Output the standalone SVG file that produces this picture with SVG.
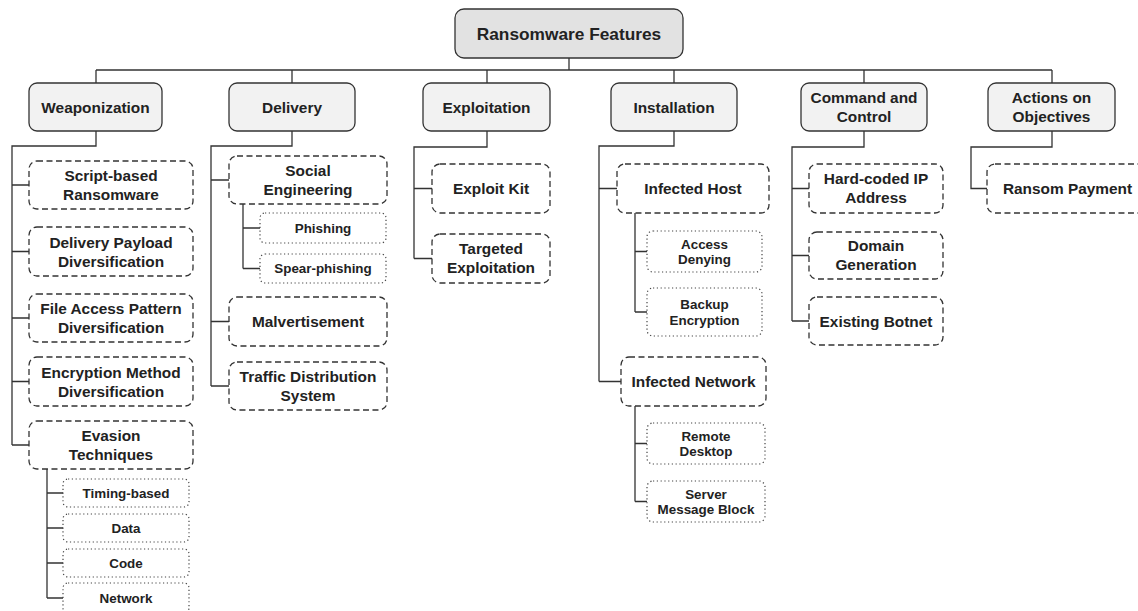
<svg xmlns="http://www.w3.org/2000/svg" width="1138" height="611" viewBox="0 0 1138 611">
<style>
  text { font-family: "Liberation Sans", Arial, sans-serif; font-weight: bold; fill: #222; text-anchor: middle; }
  .root rect { fill: #e2e2e2; stroke: #333; stroke-width: 1.3; }
  .root text { font-size: 17.3px; }
  .l1 rect { fill: #f2f2f2; stroke: #333; stroke-width: 1.3; }
  .l1 text, .l2 text { font-size: 15.4px; }
  .l2 rect { fill: #fff; stroke: #333; stroke-width: 1.3; stroke-dasharray: 6 3.5; }
  .l3 rect { fill: #fff; stroke: #444; stroke-width: 1.2; stroke-dasharray: 1.2 2.6; }
  .l3 text { font-size: 13.4px; }
  #connectors path { fill: none; stroke: #333; stroke-width: 1.3; }
</style>
<rect width="1138" height="611" fill="#fff"/>
<g id="connectors">
  <path d="M569,58 V70 M96,70 H1052 M96,70 V83 M292,70 V83 M487,70 V83 M674,70 V83 M864,70 V83 M1052,70 V83"/>
  <path d="M96,131 V146 H12 V445 M12,185 H29 M12,251.5 H29 M12,318 H29 M12,381.5 H29 M12,445 H29"/>
  <path d="M47,469 V598 M47,493 H63 M47,528 H63 M47,563 H63 M47,598 H63"/>
  <path d="M292,131 V146 H211 V386 M211,180 H229 M211,321.5 H229 M211,386 H229"/>
  <path d="M243,204 V268.5 M243,228 H260 M243,268.5 H260"/>
  <path d="M487,131 V147 H414 V258.5 M414,188.5 H432 M414,258.5 H432"/>
  <path d="M674,131 V146 H599 V381.5 M599,188.5 H617 M599,381.5 H621"/>
  <path d="M635,213 V312 M635,251.5 H647 M635,312 H647"/>
  <path d="M635,406 V501.5 M635,443.5 H647 M635,501.5 H647"/>
  <path d="M864,131 V147 H792 V321 M792,188.5 H809 M792,255.5 H809 M792,321 H809"/>
  <path d="M1052,131 V147 H971 V188.5 H987"/>
</g>
<g id="root" class="root"><rect x="455" y="9" width="228" height="49" rx="9"/><text x="569" y="39.7">Ransomware Features</text></g>

<g id="weaponization" class="l1"><rect x="29" y="83" width="133" height="48" rx="8"/><text x="95.5" y="112.5">Weaponization</text></g>
<g id="delivery" class="l1"><rect x="229" y="83" width="126" height="48" rx="8"/><text x="292" y="112.5">Delivery</text></g>
<g id="exploitation" class="l1"><rect x="423" y="83" width="127" height="48" rx="8"/><text x="486.5" y="112.5">Exploitation</text></g>
<g id="installation" class="l1"><rect x="611" y="83" width="126" height="48" rx="8"/><text x="674" y="112.5">Installation</text></g>
<g id="c2" class="l1"><rect x="801" y="83" width="126" height="48" rx="8"/><text x="864" y="103">Command and</text><text x="864" y="122">Control</text></g>
<g id="actions" class="l1"><rect x="988" y="83" width="127" height="48" rx="8"/><text x="1051.5" y="103">Actions on</text><text x="1051.5" y="122">Objectives</text></g>

<g id="script-based" class="l2"><rect x="29" y="161" width="164" height="48" rx="8"/><text x="111" y="181">Script-based</text><text x="111" y="200">Ransomware</text></g>
<g id="delivery-payload" class="l2"><rect x="29" y="227" width="164" height="49" rx="8"/><text x="111" y="247.5">Delivery Payload</text><text x="111" y="266.5">Diversification</text></g>
<g id="file-access" class="l2"><rect x="29" y="294" width="164" height="48" rx="8"/><text x="111" y="314">File Access Pattern</text><text x="111" y="333">Diversification</text></g>
<g id="encryption-method" class="l2"><rect x="29" y="357" width="164" height="49" rx="8"/><text x="111" y="377.5">Encryption Method</text><text x="111" y="396.5">Diversification</text></g>
<g id="evasion" class="l2"><rect x="29" y="421" width="164" height="48" rx="8"/><text x="111" y="441">Evasion</text><text x="111" y="460">Techniques</text></g>
<g id="timing-based" class="l3"><rect x="63" y="479" width="126" height="28" rx="5"/><text x="126" y="497.8">Timing-based</text></g>
<g id="data" class="l3"><rect x="63" y="514" width="126" height="28" rx="5"/><text x="126" y="532.8">Data</text></g>
<g id="code" class="l3"><rect x="63" y="549" width="126" height="28" rx="5"/><text x="126" y="567.8">Code</text></g>
<g id="network" class="l3"><rect x="63" y="583" width="126" height="30" rx="5"/><text x="126" y="602.8">Network</text></g>

<g id="social-engineering" class="l2"><rect x="229" y="156" width="158" height="48" rx="8"/><text x="308" y="175.5">Social</text><text x="308" y="194.5">Engineering</text></g>
<g id="phishing" class="l3"><rect x="260" y="213" width="126" height="30" rx="5"/><text x="323" y="232.8">Phishing</text></g>
<g id="spear-phishing" class="l3"><rect x="260" y="254" width="126" height="29" rx="5"/><text x="323" y="273.3">Spear-phishing</text></g>
<g id="malvertisement" class="l2"><rect x="229" y="297" width="158" height="49" rx="8"/><text x="308" y="327">Malvertisement</text></g>
<g id="tds" class="l2"><rect x="229" y="362" width="158" height="48" rx="8"/><text x="308" y="381.5">Traffic Distribution</text><text x="308" y="400.5">System</text></g>

<g id="exploit-kit" class="l2"><rect x="432" y="164" width="118" height="49" rx="8"/><text x="491" y="194">Exploit Kit</text></g>
<g id="targeted-exploitation" class="l2"><rect x="432" y="234" width="118" height="49" rx="8"/><text x="491" y="254">Targeted</text><text x="491" y="273">Exploitation</text></g>

<g id="infected-host" class="l2"><rect x="617" y="164" width="152" height="49" rx="8"/><text x="693" y="194">Infected Host</text></g>
<g id="access-denying" class="l3"><rect x="647" y="231" width="115" height="41" rx="6"/><text x="704.5" y="248.5">Access</text><text x="704.5" y="264">Denying</text></g>
<g id="backup-encryption" class="l3"><rect x="647" y="288" width="115" height="48" rx="6"/><text x="704.5" y="309">Backup</text><text x="704.5" y="324.6">Encryption</text></g>
<g id="infected-network" class="l2"><rect x="621" y="357" width="145" height="49" rx="8"/><text x="693.5" y="387">Infected Network</text></g>
<g id="remote-desktop" class="l3"><rect x="647" y="423" width="118" height="41" rx="6"/><text x="706" y="440.5">Remote</text><text x="706" y="456">Desktop</text></g>
<g id="smb" class="l3"><rect x="647" y="481" width="118" height="41" rx="6"/><text x="706" y="498.5">Server</text><text x="706" y="514">Message Block</text></g>

<g id="hard-coded-ip" class="l2"><rect x="809" y="164" width="134" height="49" rx="8"/><text x="876" y="184">Hard-coded IP</text><text x="876" y="203">Address</text></g>
<g id="domain-generation" class="l2"><rect x="809" y="232" width="134" height="47" rx="8"/><text x="876" y="251">Domain</text><text x="876" y="270">Generation</text></g>
<g id="existing-botnet" class="l2"><rect x="809" y="297" width="134" height="48" rx="8"/><text x="876" y="326.5">Existing Botnet</text></g>

<g id="ransom-payment" class="l2"><rect x="987" y="164" width="161" height="49" rx="8"/><text x="1067.5" y="194">Ransom Payment</text></g>
</svg>
